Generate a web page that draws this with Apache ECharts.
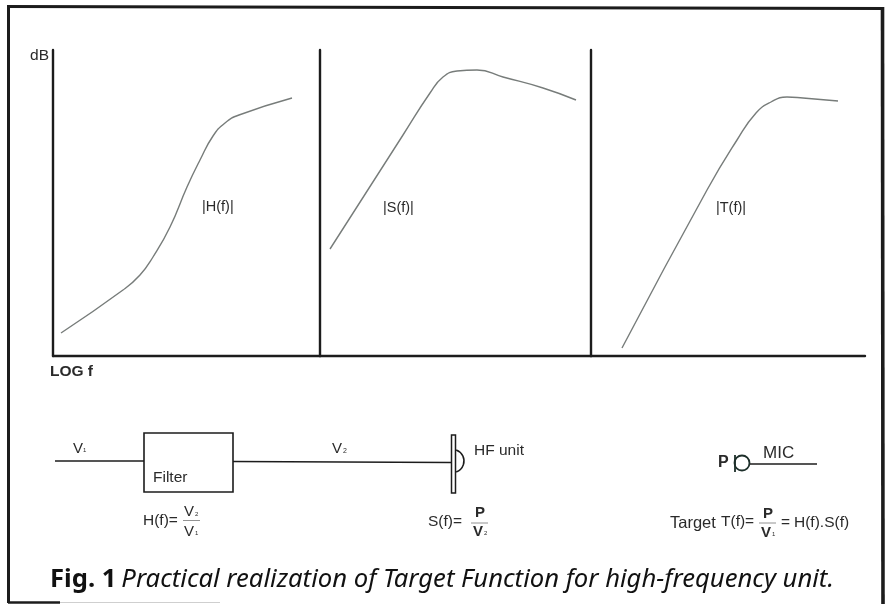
<!DOCTYPE html>
<html><head><meta charset="utf-8">
<style>html,body{margin:0;padding:0;background:#fff}#c{width:888px;height:604px;filter:blur(0.45px)}</style>
<script src="https://cdn.jsdelivr.net/npm/echarts@6/dist/echarts.min.js"></script>
</head><body><div id="c"></div>
<script>
// Curves: [log f position, dB level]
const curveH = [[8,23],[70,66],[87,81],[100,99],[117,129],[134,169],[147,196],[160,220],[172,233],[186,241],[239,258]];
const curveS = [[10,107],[83,221],[110,263],[123,279],[137,285],[157,286],[183,279],[223,268],[256,256]];
const curveT = [[31,8],[116,166],[146,216],[165,243],[180,254],[196,259],[212,258],[247,255]];
const curveNames = ['|H(f)|','|S(f)|','|T(f)|'];
const yName = 'dB';
const xName = 'LOG f';

const ink = '#1c1c1c', curveInk = '#777c7a', textInk = '#2a2a2a';
const SANS = '"Liberation Sans", Arial, sans-serif';
const grids = [
  {left:53, width:267, top:50, height:306},
  {left:320, width:271, top:50, height:306},
  {left:591, width:274, top:50, height:306}
];
const maxX = [267,271,274];
const axisLine = {show:true, onZero:false, lineStyle:{color:ink, width:2.4}};
const xAxes = grids.map((g,i)=>({gridIndex:i, type:'value', min:0, max:maxX[i], axisLine,
  axisTick:{show:false}, axisLabel:{show:false}, splitLine:{show:false},
  name:i===0?xName:'', nameLocation:'start', nameGap:-40,
  nameTextStyle:{color:textInk, fontFamily:SANS, fontSize:15.5, fontWeight:'bold', verticalAlign:'top', padding:[8,0,0,0]}}));
const yAxes = grids.map((g,i)=>({gridIndex:i, type:'value', min:0, max:306, axisLine,
  axisTick:{show:false}, axisLabel:{show:false}, splitLine:{show:false},
  name:i===0?yName:'', nameLocation:'end', nameGap:-14,
  nameTextStyle:{color:textInk, fontFamily:SANS, fontSize:15.5, align:'right', padding:[0,4,0,0]}}));
const series = [curveH,curveS,curveT].map((d,i)=>({
  type:'line', name:curveNames[i], xAxisIndex:i, yAxisIndex:i, data:d, smooth:0.5, symbol:'none',
  clip:false, lineStyle:{color:curveInk, width:1.4}, silent:true}));

const T = (x,y,text,size,extra)=>({type:'text', silent:true, x, y, style:Object.assign({
  text, fill:textInk, font:(extra&&extra.weight?extra.weight+' ':'')+size+'px '+SANS, textAlign:'left', textVerticalAlign:'middle'},extra||{})});
const L = (x1,y1,x2,y2,w,c)=>({type:'line', silent:true, shape:{x1,y1,x2,y2}, style:{stroke:c||ink, lineWidth:w||1.4}});
const a = 71*Math.PI/180;
const graphic = [
  // frame
  L(7,6.5,882,8.5,3.2), L(8.5,5,8.5,603,3), L(882.5,7,883,604,3.6), L(8,602.5,60,602.5,2.4), L(60,602.5,220,602.5,1,'#cfcfcf'),
  // curve labels
  T(202,207,curveNames[0],14.5), T(383,208,curveNames[1],14.5), T(716,208,curveNames[2],14.5),
  // schematic
  L(55,461,144,461,1.4),
  {type:'rect', silent:true, shape:{x:144,y:433,width:89,height:59}, style:{fill:'none', stroke:ink, lineWidth:1.6}},
  L(233,461.5,451,462.5,1.4),
  {type:'rect', silent:true, shape:{x:451.5,y:435,width:4,height:58}, style:{fill:'#fff', stroke:ink, lineWidth:1.5}},
  {type:'arc', silent:true, shape:{cx:452.4,cy:461,r:11.6,startAngle:-a,endAngle:a,clockwise:true}, style:{fill:'none', stroke:ink, lineWidth:1.5}},
  {type:'circle', silent:true, shape:{cx:742,cy:463,r:7.5}, style:{fill:'none', stroke:'#1d2f2a', lineWidth:1.8}},
  L(735,455,735,472,1.8,'#1d2f2a'),
  L(750,464,817,464,1.6),
  T(73,449,'V',15), T(83,450,'1',6),
  T(153,478,'Filter',15.5),
  T(332,449,'V',15), T(343,451,'2',7),
  T(474,451,'HF unit',15.5),
  T(763,453,'MIC',17),
  T(718,463,'P',16,{weight:'bold'}),
  // formulae
  T(143,521,'H(f)=',15.5),
  T(184,512,'V',15), T(195,514,'2',6), L(183,520.5,200,520.5,0.8,'#777'), T(184,532,'V',15), T(195,533,'1',6),
  T(428,522,'S(f)=',15.5),
  T(475,513,'P',15,{weight:'bold'}), L(471,523,488,523,0.8,'#777'), T(473,532,'V',15,{weight:'bold'}), T(484,533,'2',6),
  T(670,523,'Target',16.5),
  T(721,522,'T(f)=',15.5),
  T(763,514,'P',15,{weight:'bold'}), L(759,523,776,523,0.8,'#777'), T(761,533,'V',15,{weight:'bold'}), T(772,534,'1',6),
  T(781,523,'=',15.5), T(794,523,'H(f).S(f)',15.5)
];

const chart = echarts.init(document.getElementById('c'), null, {renderer:'canvas'});
chart.setOption({
  animation:false, backgroundColor:'#fff',
  title:{left:45, top:562,
    text:'{b|Fig. 1} {i|Practical realization of Target Function for high-frequency unit.}',
    textStyle:{fontWeight:'normal', rich:{
      b:{fontFamily:'"Noto Sans"', fontWeight:'bold', fontSize:25.6, color:'#111'},
      i:{fontFamily:'"Noto Sans"', fontStyle:'italic', fontWeight:'normal', fontSize:25.65, color:'#111'}}}},
  grid:grids, xAxis:xAxes, yAxis:yAxes, series, graphic
});
</script></body></html>
